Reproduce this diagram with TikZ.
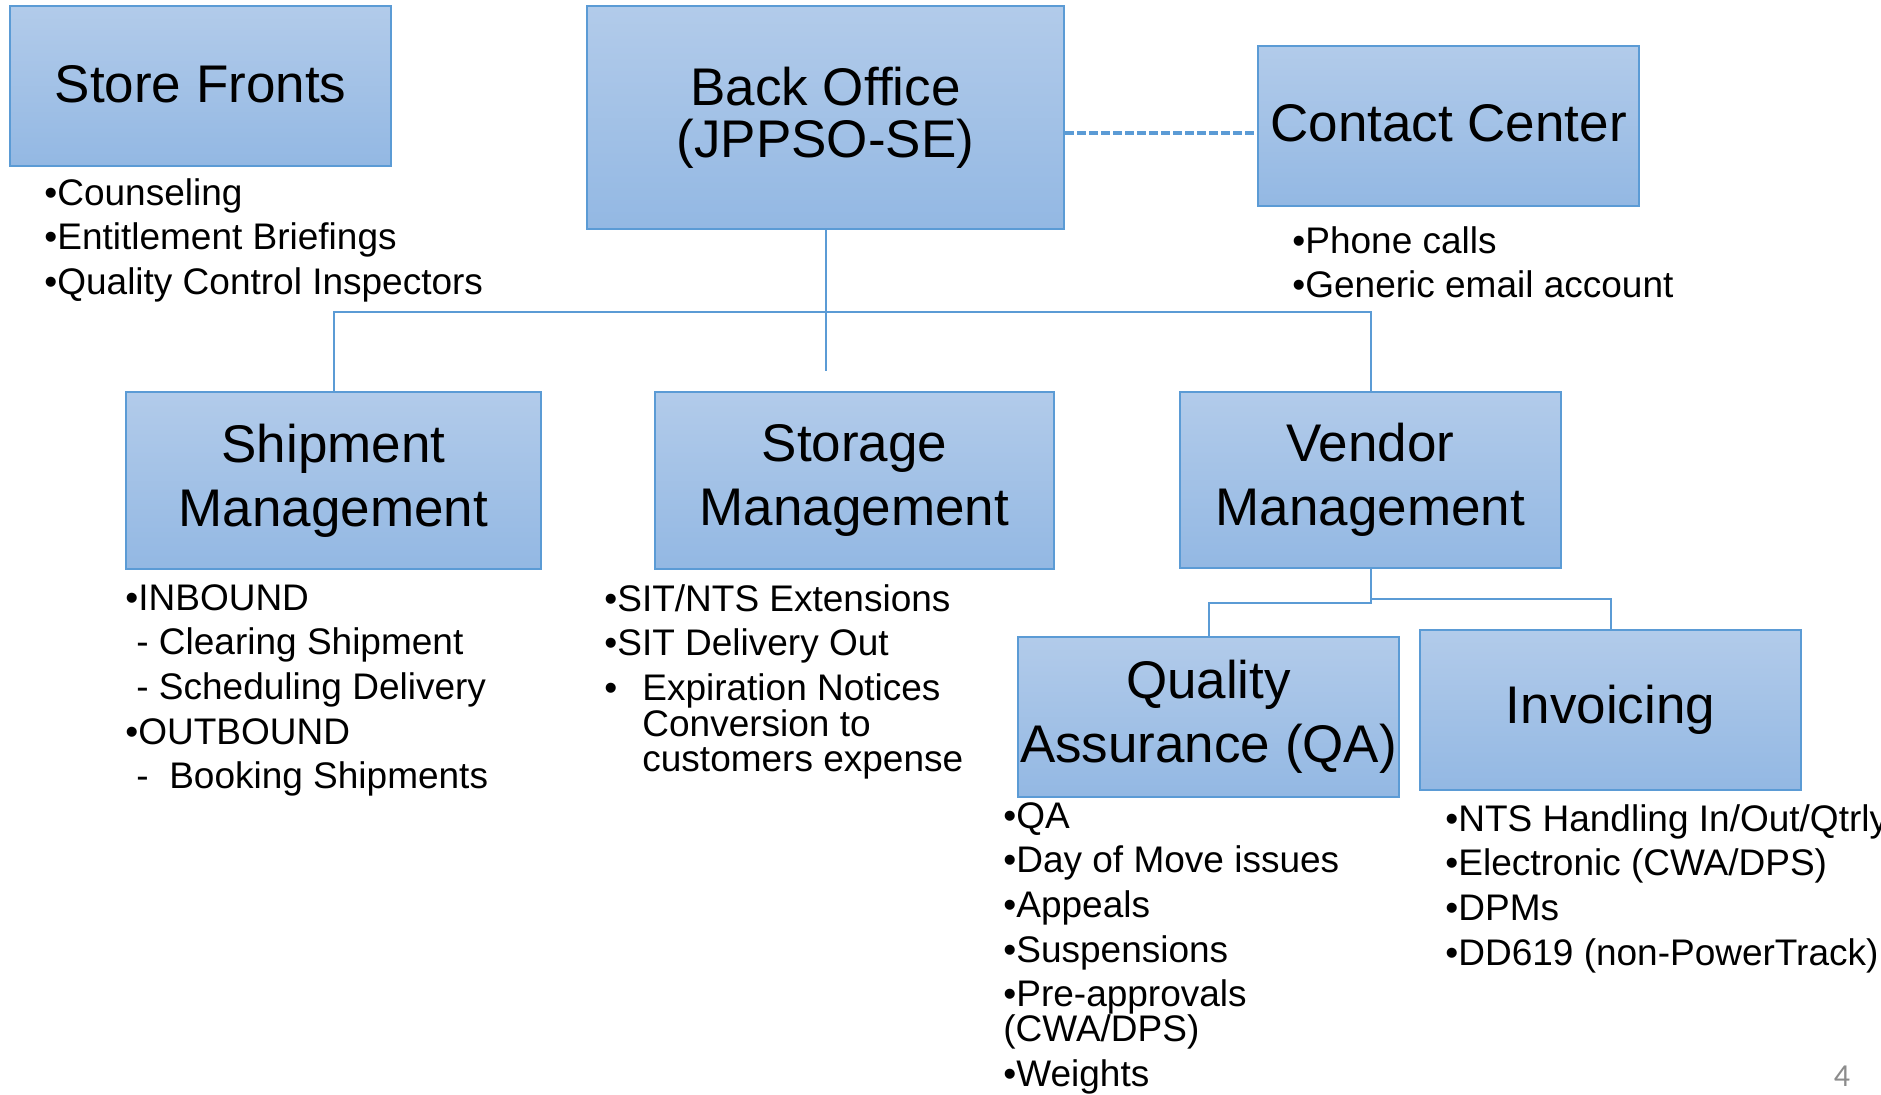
\documentclass[tikz,border=0pt]{standalone}
\usepackage{fontspec}
\setmainfont{Liberation Sans}
\newfontfamily\pagefont{Carlito}
\definecolor{boxtop}{RGB}{178,203,234}
\definecolor{boxbottom}{RGB}{147,184,227}
\definecolor{boxline}{RGB}{91,155,213}
\definecolor{pagegray}{RGB}{140,140,140}
\begin{document}
\begin{tikzpicture}[x=0.5pt, y=-0.5pt,
  unit/.style={rectangle, draw=boxline, line width=1.3pt, top color=boxtop, bottom color=boxbottom, align=center, inner sep=0pt, font=\fontsize{26.5}{31.8}\selectfont},
  duties/.style={anchor=north west, align=left, inner sep=0pt, font=\fontsize{18.5}{22.3}\selectfont},
  link/.style={draw=boxline, line width=1pt},
  dotlink/.style={draw=boxline, line width=2.3pt, dash pattern=on 4.5pt off 1.5pt}]
  \useasboundingbox (0,0) rectangle (1881,1094);
  % Nodes
  \node (SF) [unit, minimum width=190.5pt, minimum height=80pt] at (200.5, 86) {\raisebox{2.5pt}{Store Fronts}};
  \node (BO) [unit, minimum width=238.5pt, minimum height=111.5pt] at (825.5, 117.5) {Back Office\\[-6pt](JPPSO-SE)};
  \node (CC) [unit, minimum width=190.5pt, minimum height=80pt] at (1448.5, 126) {\raisebox{3pt}{Contact Center}};
  \node (SM) [unit, minimum width=207.5pt, minimum height=88.5pt] at (333.5, 480.5) {Shipment\\Management};
  \node (ST) [unit, minimum width=199.5pt, minimum height=88.5pt] at (854.5, 480.5) {Storage\\Management};
  \node (VM) [unit, minimum width=190.5pt, minimum height=88pt] at (1370.5, 480) {Vendor\\Management};
  \node (QA) [unit, minimum width=190.5pt, minimum height=80pt] at (1208.5, 717) {Quality\\Assurance (QA)};
  \node (INV) [unit, minimum width=190.5pt, minimum height=80pt] at (1610.5, 710) {Invoicing};
  % Lists
  \node (SFlist) [duties] at (44, 178) {•Counseling\\•Entitlement Briefings\\•Quality Control Inspectors};
  \node (CClist) [duties] at (1292, 226) {•Phone calls\\•Generic email account};
  \node (SMlist) [duties] at (125, 584) {•INBOUND\\\hspace{5.5pt}- Clearing Shipment\\\hspace{5.5pt}- Scheduling Delivery\\•OUTBOUND\\\hspace{5.5pt}- \ Booking Shipments};
  \node (STlist) [duties] at (604, 584) {•SIT/NTS Extensions\\•SIT Delivery Out\\•\hspace{12.5pt}Expiration Notices\\[-4.5pt]\hspace{19pt}Conversion to\\[-4.5pt]\hspace{19pt}customers expense};
  \node (QAlist) [duties] at (1003, 802) {•QA\\•Day of Move issues\\•Appeals\\•Suspensions\\•Pre-approvals\\[-4.8pt](CWA/DPS)\\•Weights};
  \node (INVlist) [duties] at (1445, 804) {•NTS Handling In/Out/Qtrly\\•Electronic (CWA/DPS)\\•DPMs\\•DD619 (non-PowerTrack)};
  % Page number
  \node (pagenum) [font=\pagefont\fontsize{16}{18}\selectfont, text=pagegray] at (1842, 1076) {4};
  % Lines
  \coordinate (bus) at (0, 312);
  \coordinate (stub) at (825.5, 371);
  \coordinate (ccin) at ([yshift=-3.5pt]CC.west);
  \draw[link] (BO.south) -- (stub);
  \draw[link] (SM.north) -- (SM.north |- bus) -- (VM.north |- bus) -- (VM.north);
  \draw[link] (VM.south) -- ++(0, 34) -| (QA.north);
  \draw[link] (VM.south) -- ++(0, 30) -| (INV.north);
  \draw[dotlink] (ccin -| BO.east) -- (ccin);
\end{tikzpicture}
\end{document}
